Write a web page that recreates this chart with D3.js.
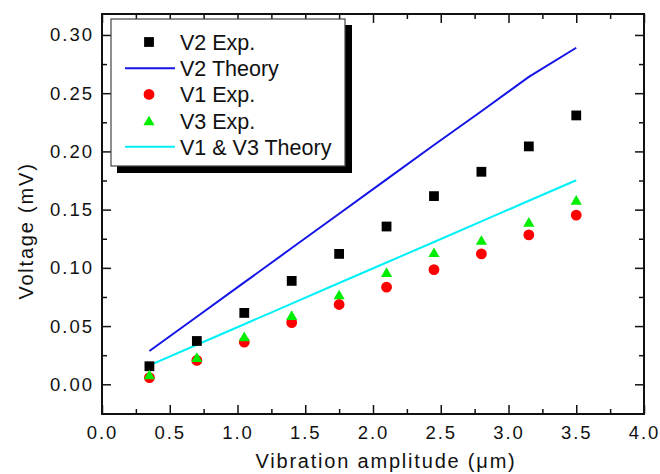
<!DOCTYPE html>
<html>
	<head>
		<meta charset="UTF-8">
		<title></title>
		<script src="https://cdn.jsdelivr.net/npm/d3@7/dist/d3.min.js"></script>
		<style>
			body{margin:0;background:#fff;}
			text{font-family:"Liberation Sans",Arial,sans-serif;fill:#111;}
		</style>
	</head>
	<body>
		<div id="chart"></div>
	</body>
	<script>
		//1、数据
		var amplitude=[0.35,0.7,1.05,1.4,1.75,2.1,2.45,2.8,3.15,3.5];
		var v2Exp=[0.0155,0.0372,0.0613,0.0888,0.112,0.1355,0.1616,0.1825,0.2043,0.2309];
		var v2Theory=[0.0286,0.058,0.0875,0.117,0.1465,0.176,0.2055,0.2345,0.264,0.289];
		var v1Exp=[0.0058,0.0205,0.0362,0.053,0.0685,0.0834,0.0985,0.112,0.1283,0.1453];
		var v3Exp=[0.0083,0.0232,0.041,0.0593,0.077,0.0963,0.1133,0.1238,0.1394,0.1583];
		var v13Theory=[0.0163,0.034,0.0516,0.0693,0.087,0.1046,0.1222,0.1399,0.1576,0.1752];
		var xTicks=[0,0.5,1,1.5,2,2.5,3,3.5,4];
		var xMinor=[0.25,0.75,1.25,1.75,2.25,2.75,3.25,3.75];
		var yTicks=[0,0.05,0.1,0.15,0.2,0.25,0.3];
		var yMinor=[0.025,0.075,0.125,0.175,0.225,0.275];
		var legendNames=["V2 Exp.","V2 Theory","V1 Exp.","V3 Exp.","V1 & V3 Theory"];

		var width=660,height=474;
		var plot={left:102,right:644,top:14,bottom:414};

		var svg=d3.select("#chart")
		.append("svg")
		.attr("width",width)
		.attr("height",height);

		//2、比例尺
		var xScale=d3.scaleLinear().domain([0,4]).range([plot.left,plot.right]);
		var yScale=d3.scaleLinear().domain([-0.0255,0.318]).range([plot.bottom,plot.top]);

		//3、坐标轴（刻度朝内）
		function styleAxis(g){
			g.select(".domain").remove();
			g.selectAll("line").attr("stroke","#111").attr("stroke-width",1.5);
			g.selectAll("text")
			.style("font-size","18.5px")
			.style("letter-spacing","2px")
			.attr("fill","#111");
		}
		//下
		svg.append("g")
		.attr("transform","translate(0,"+plot.bottom+")")
		.call(d3.axisBottom(xScale).tickValues(xTicks).tickFormat(d3.format(".1f")).tickSizeInner(-9).tickSizeOuter(0).tickPadding(12))
		.call(styleAxis);
		svg.append("g")
		.attr("transform","translate(0,"+plot.bottom+")")
		.call(d3.axisBottom(xScale).tickValues(xMinor).tickFormat("").tickSizeInner(-5).tickSizeOuter(0))
		.call(styleAxis);
		//上
		svg.append("g")
		.attr("transform","translate(0,"+plot.top+")")
		.call(d3.axisTop(xScale).tickValues(xTicks).tickFormat("").tickSizeInner(-9).tickSizeOuter(0))
		.call(styleAxis);
		svg.append("g")
		.attr("transform","translate(0,"+plot.top+")")
		.call(d3.axisTop(xScale).tickValues(xMinor).tickFormat("").tickSizeInner(-5).tickSizeOuter(0))
		.call(styleAxis);
		//左
		svg.append("g")
		.attr("transform","translate("+plot.left+",0)")
		.call(d3.axisLeft(yScale).tickValues(yTicks).tickFormat(d3.format(".2f")).tickSizeInner(-9).tickSizeOuter(0).tickPadding(8))
		.call(styleAxis);
		svg.append("g")
		.attr("transform","translate("+plot.left+",0)")
		.call(d3.axisLeft(yScale).tickValues(yMinor).tickFormat("").tickSizeInner(-5).tickSizeOuter(0))
		.call(styleAxis);
		//右
		svg.append("g")
		.attr("transform","translate("+plot.right+",0)")
		.call(d3.axisRight(yScale).tickValues(yTicks).tickFormat("").tickSizeInner(-9).tickSizeOuter(0))
		.call(styleAxis);
		svg.append("g")
		.attr("transform","translate("+plot.right+",0)")
		.call(d3.axisRight(yScale).tickValues(yMinor).tickFormat("").tickSizeInner(-5).tickSizeOuter(0))
		.call(styleAxis);

		//边框
		svg.append("rect")
		.attr("x",plot.left).attr("y",plot.top)
		.attr("width",plot.right-plot.left).attr("height",plot.bottom-plot.top)
		.attr("fill","none").attr("stroke","#111").attr("stroke-width",2);

		//轴标题
		svg.append("text")
		.attr("x",386).attr("y",468)
		.attr("text-anchor","middle")
		.style("font-size","20px").style("letter-spacing","1.8px")
		.text("Vibration amplitude (\u03bcm)");
		svg.append("text")
		.attr("transform","translate(33,231) rotate(-90)")
		.attr("text-anchor","middle")
		.style("font-size","20px").style("letter-spacing","1.8px")
		.text("Voltage (mV)");

		//4、理论曲线
		var line=d3.line()
		.x(function(d,i){return xScale(amplitude[i]);})
		.y(function(d){return yScale(d);});
		svg.append("path").datum(v2Theory)
		.attr("d",line).attr("fill","none").attr("stroke","#1414e6").attr("stroke-width",2);
		svg.append("path").datum(v13Theory)
		.attr("d",line).attr("fill","none").attr("stroke","#00f0f8").attr("stroke-width",2);

		//5、实验点
		var square=d3.symbol().type(d3.symbolSquare).size(96);
		var circle=d3.symbol().type(d3.symbolCircle).size(92);
		var triangle=d3.symbol().type(d3.symbolTriangle).size(54);

		svg.selectAll(".v2").data(v2Exp).enter().append("path")
		.attr("class","v2")
		.attr("d",square)
		.attr("fill","#000")
		.attr("transform",function(d,i){return "translate("+xScale(amplitude[i])+","+yScale(d)+")";});
		svg.selectAll(".v1").data(v1Exp).enter().append("path")
		.attr("class","v1")
		.attr("d",circle)
		.attr("fill","#ff0000")
		.attr("transform",function(d,i){return "translate("+xScale(amplitude[i])+","+yScale(d)+")";});
		svg.selectAll(".v3").data(v3Exp).enter().append("path")
		.attr("class","v3")
		.attr("d",triangle)
		.attr("fill","#00ee00")
		.attr("transform",function(d,i){return "translate("+xScale(amplitude[i])+","+(yScale(d)+1.5)+")";});

		//6、图例（带阴影）
		var legend=svg.append("g");
		legend.append("rect")
		.attr("x",117).attr("y",25).attr("width",235).attr("height",148)
		.attr("fill","#000");
		legend.append("rect")
		.attr("x",111).attr("y",19).attr("width",234).attr("height",147)
		.attr("fill","#fff").attr("stroke","#444").attr("stroke-width",1.2);

		var rowY=function(i){return 42+i*26.2;};
		legend.selectAll(".lt").data(legendNames).enter().append("text")
		.attr("class","lt")
		.attr("x",180)
		.attr("y",function(d,i){return rowY(i)+8;})
		.style("font-size","21.5px")
		.text(function(d){return d;});

		legend.append("path").attr("d",square).attr("fill","#000")
		.attr("transform","translate(149,"+rowY(0)+")");
		legend.append("line").attr("x1",125).attr("x2",175)
		.attr("y1",rowY(1)).attr("y2",rowY(1))
		.attr("stroke","#1414e6").attr("stroke-width",2);
		legend.append("path").attr("d",circle).attr("fill","#ff0000")
		.attr("transform","translate(149,"+rowY(2)+")");
		legend.append("path").attr("d",triangle).attr("fill","#00ee00")
		.attr("transform","translate(149,"+(rowY(3)+1.5)+")");
		legend.append("line").attr("x1",125).attr("x2",175)
		.attr("y1",rowY(4)).attr("y2",rowY(4))
		.attr("stroke","#00f0f8").attr("stroke-width",2);
	</script>
</html>
